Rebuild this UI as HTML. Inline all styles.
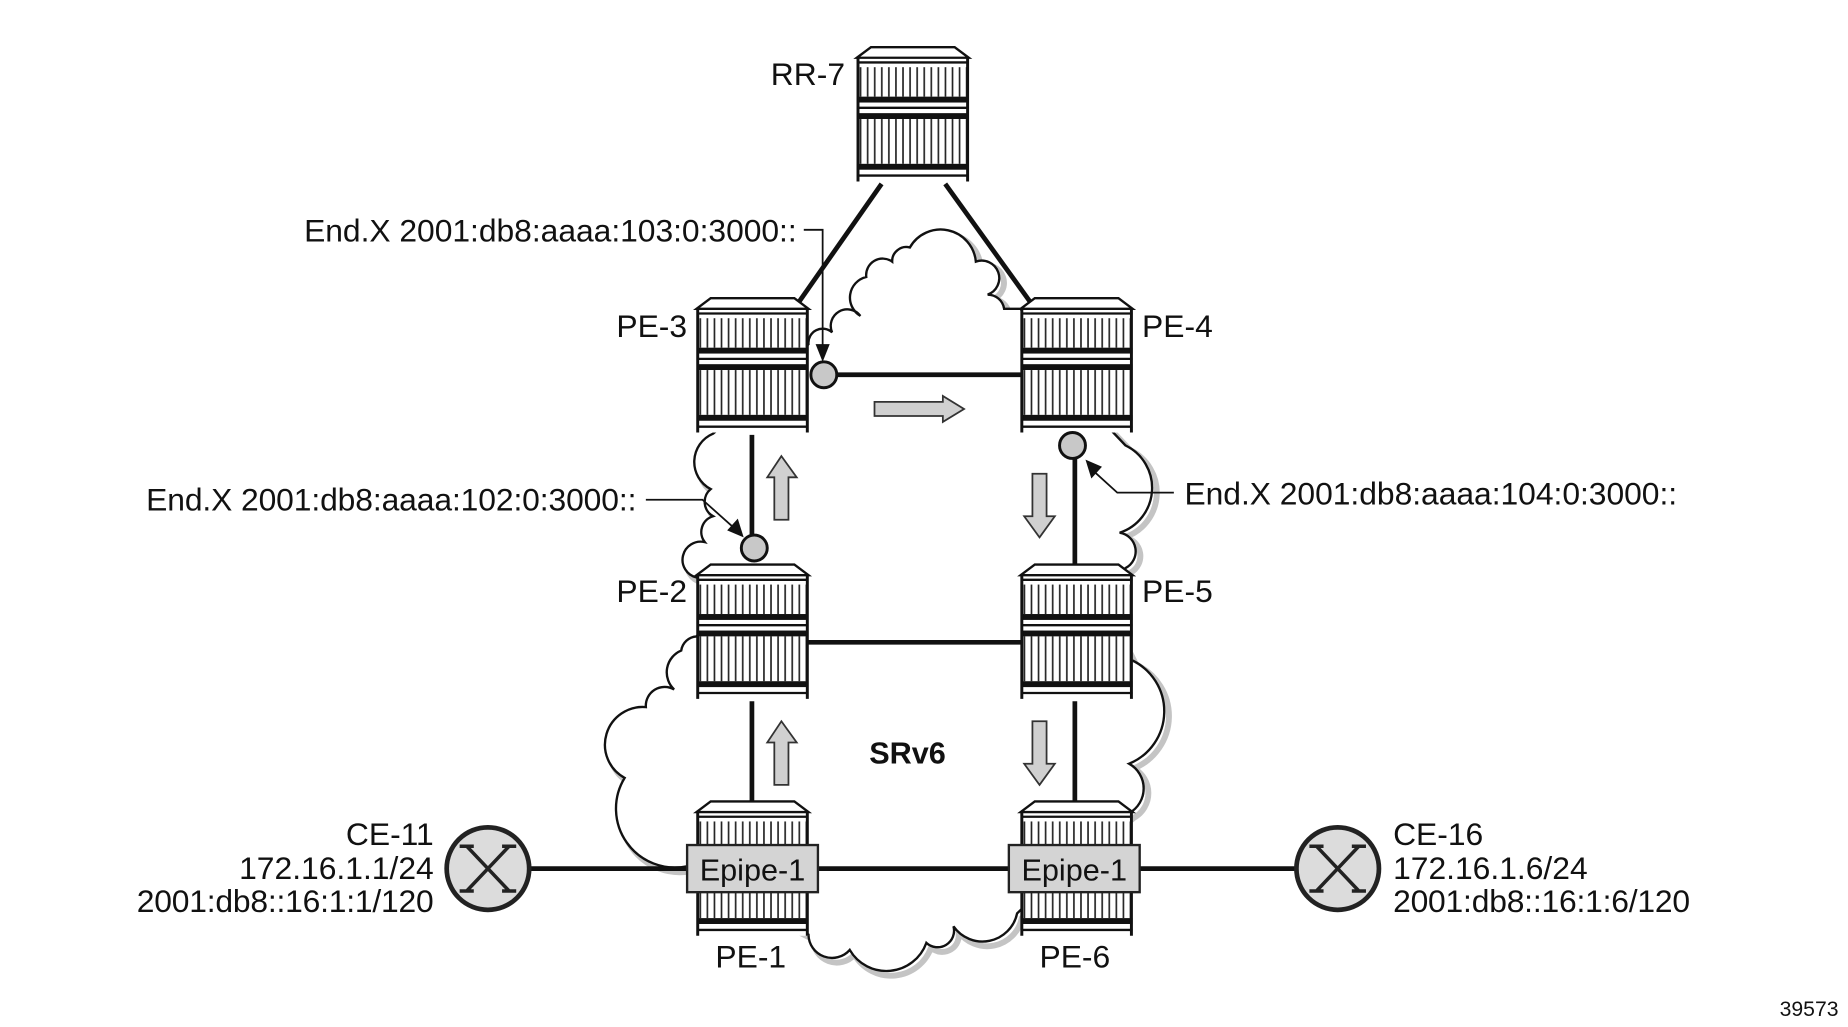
<!DOCTYPE html>
<html><head><meta charset="utf-8"><style>
html,body{margin:0;padding:0;background:#fff;}
svg{display:block;}
text{font-family:"Liberation Sans",Arial,sans-serif;fill:#111;}
</style></head><body>
<svg width="1848" height="1027" viewBox="0 0 1568 871.4" preserveAspectRatio="none" xmlns="http://www.w3.org/2000/svg">
<defs>
<pattern id="st" x="0" y="0" width="6" height="10" patternUnits="userSpaceOnUse">
<rect width="6" height="10" fill="#fff"/><rect x="2.5" width="1.4" height="10" fill="#222"/>
</pattern>
<g id="rt">
<rect x="0" y="9" width="95" height="105" fill="#fff"/>
<polygon points="12,0 83,0 95,9 0,9" fill="#fff" stroke="#111" stroke-width="2"/>
<line x1="0" y1="13" x2="95" y2="13" stroke="#111" stroke-width="2"/>
<rect x="1" y="17" width="93" height="25" fill="url(#st)"/>
<rect x="0" y="42" width="95" height="5" fill="#111"/>
<line x1="0" y1="51.5" x2="95" y2="51.5" stroke="#111" stroke-width="2"/>
<rect x="0" y="56" width="95" height="5" fill="#111"/>
<rect x="1" y="61" width="93" height="38" fill="url(#st)"/>
<rect x="0" y="99" width="95" height="5" fill="#111"/>
<line x1="0" y1="109" x2="95" y2="109" stroke="#111" stroke-width="2"/>
<line x1="1" y1="9" x2="1" y2="114" stroke="#111" stroke-width="2.5"/>
<line x1="94" y1="9" x2="94" y2="114" stroke="#111" stroke-width="2.5"/>
</g>
<path id="cl" d="M686,292 A12,12 0 0 1 706,282 A14,14 0 0 1 730,268 A18,18 0 0 1 735,235 A14,14 0 0 1 757,222 A12,12 0 0 1 772,210 A30,30 0 0 1 828,222 A14,14 0 0 1 838,250 A14,14 0 0 1 852,262 L866,262 L900,320 L955,378 A40,40 0 0 1 950,452 A16,16 0 0 1 955,482 L940,520 L960,560 A48,48 0 0 1 958,648 A24,24 0 0 1 958,690 L900,740 L863,775 A30,30 0 0 1 809,786 A14,14 0 0 1 786,800 A36,36 0 0 1 721,806 A20,20 0 0 1 686,793 L620,760 L583,735 A50,50 0 0 1 530,660 A32,32 0 0 1 548,600 A16,16 0 0 1 572,585 A20,20 0 0 1 578,552 A14,14 0 0 1 591,540 L620,500 L591,490 A14,14 0 0 1 598,460 A14,14 0 0 1 605,438 A14,14 0 0 1 603,415 A26,26 0 0 1 605,368 L650,330 Z"/>
</defs>

<use href="#cl" transform="translate(4,4)" fill="none" stroke="#c4c4c4" stroke-width="5"/>
<use href="#cl" fill="#fff" stroke="#111" stroke-width="2"/>

<g stroke="#111" stroke-width="4" fill="none">
<line x1="748" y1="156" x2="678" y2="256"/>
<line x1="802" y1="156" x2="874" y2="256"/>
<line x1="700" y1="318" x2="868" y2="318"/>
<line x1="638" y1="369" x2="638" y2="456"/>
<line x1="912" y1="388" x2="912" y2="480"/>
<line x1="686" y1="545" x2="866" y2="545"/>
<line x1="638" y1="595" x2="638" y2="682"/>
<line x1="912" y1="595" x2="912" y2="682"/>
<line x1="449" y1="737" x2="585" y2="737"/>
<line x1="692" y1="737" x2="858" y2="737"/>
<line x1="966" y1="737" x2="1100" y2="737"/>
</g>

<use href="#rt" x="727" y="40"/>
<use href="#rt" x="591" y="253"/>
<use href="#rt" x="866" y="253"/>
<use href="#rt" x="591" y="479"/>
<use href="#rt" x="866" y="479"/>
<use href="#rt" x="591" y="680"/>
<use href="#rt" x="866" y="680"/>

<rect x="583" y="717" width="111" height="40" fill="#d4d4d4" stroke="#222" stroke-width="2"/>
<text x="638.5" y="747" font-size="26" text-anchor="middle">Epipe-1</text>
<rect x="856" y="717" width="111" height="40" fill="#d4d4d4" stroke="#222" stroke-width="2"/>
<text x="911.5" y="747" font-size="26" text-anchor="middle">Epipe-1</text>

<g fill="#c8c8c8" stroke="#111" stroke-width="2.5">
<circle cx="699" cy="318" r="11"/>
<circle cx="640" cy="465" r="11"/>
<circle cx="910" cy="378" r="11"/>
</g>

<g stroke="#111" stroke-width="1.5" fill="none">
<polyline points="682,195 698,195 698,296"/>
<polyline points="548,424 596,424 624,449"/>
<polyline points="996,418 948,418 926,398"/>
</g>
<g fill="#111">
<polygon points="698,307 692,292 704,292"/>
<polygon points="631,456 617,450 626,440"/>
<polygon points="921,390 935,396 926,406"/>
</g>

<g fill="#d0d0d0" stroke="#333" stroke-width="1.5">
<polygon points="742,341 800,341 800,336 818,347 800,358 800,353 742,353"/>
<polygon points="663,387 676,405 669,405 669,441 657,441 657,405 651,405"/>
<polygon points="663,612 676,630 669,630 669,666 657,666 657,630 651,630"/>
<polygon points="882,456 895,438 888,438 888,402 876,402 876,438 869,438"/>
<polygon points="882,666 895,648 888,648 888,612 876,612 876,648 869,648"/>
</g>

<g>
<circle cx="414" cy="737" r="35" fill="#dcdcdc" stroke="#222" stroke-width="4"/>
<path d="M396,718 Q414,737 432,756 M396,756 Q414,737 432,718 M390,718 H402 M426,718 H438 M390,756 H402 M426,756 H438" stroke="#222" stroke-width="3" fill="none"/>
<circle cx="1135" cy="737" r="35" fill="#dcdcdc" stroke="#222" stroke-width="4"/>
<path d="M1117,718 Q1135,737 1153,756 M1117,756 Q1135,737 1153,718 M1111,718 H1123 M1147,718 H1159 M1111,756 H1123 M1147,756 H1159" stroke="#222" stroke-width="3" fill="none"/>
</g>

<g font-size="27">
<text x="717" y="72" text-anchor="end">RR-7</text>
<text x="583" y="286" text-anchor="end">PE-3</text>
<text x="969" y="286">PE-4</text>
<text x="583" y="511" text-anchor="end">PE-2</text>
<text x="969" y="511">PE-5</text>
<text x="637" y="821" text-anchor="middle">PE-1</text>
<text x="912" y="821" text-anchor="middle">PE-6</text>
<text x="676" y="205" text-anchor="end" textLength="418">End.X 2001:db8:aaaa:103:0:3000::</text>
<text x="540" y="433" text-anchor="end" textLength="416">End.X 2001:db8:aaaa:102:0:3000::</text>
<text x="1005" y="428" textLength="418">End.X 2001:db8:aaaa:104:0:3000::</text>
<text x="368" y="717" text-anchor="end">CE-11</text>
<text x="368" y="746" text-anchor="end">172.16.1.1/24</text>
<text x="368" y="774" text-anchor="end" textLength="252">2001:db8::16:1:1/120</text>
<text x="1182" y="717">CE-16</text>
<text x="1182" y="746">172.16.1.6/24</text>
<text x="1182" y="774" textLength="252">2001:db8::16:1:6/120</text>
</g>
<text x="770" y="648" font-size="26" font-weight="bold" text-anchor="middle">SRv6</text>
<text x="1560" y="862" font-size="18" text-anchor="end">39573</text>
</svg>
</body></html>
